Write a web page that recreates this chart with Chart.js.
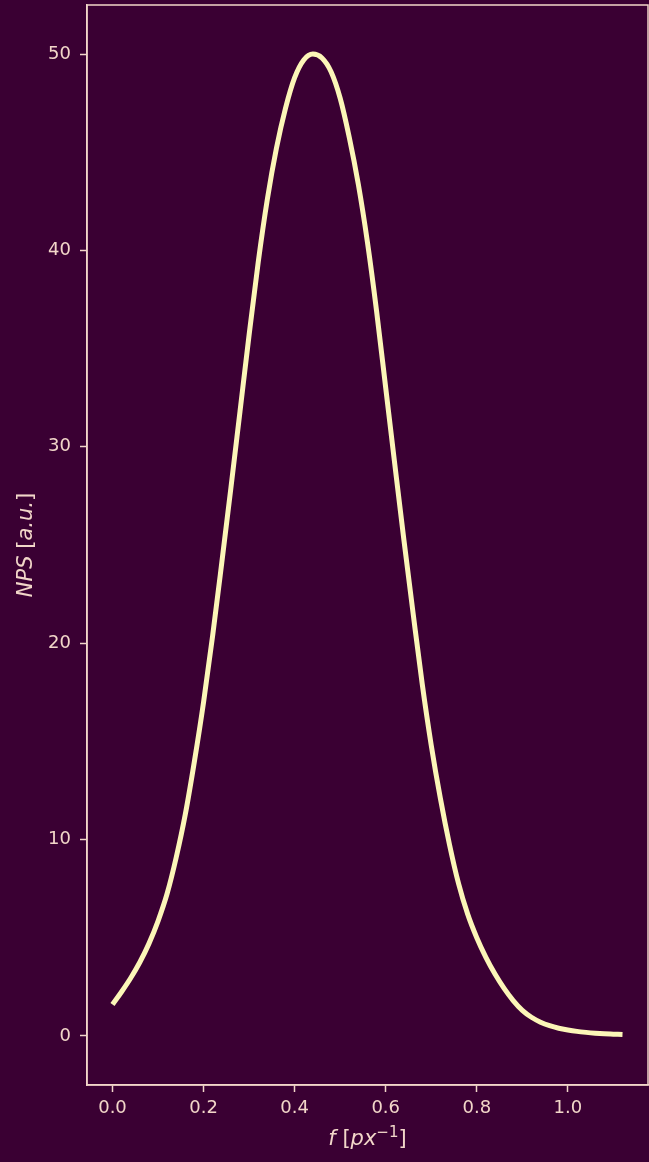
<!DOCTYPE html>
<html>
<head>
<meta charset="utf-8">
<script src="https://cdn.jsdelivr.net/npm/chart.js@4"></script>
<style>
  html, body { margin: 0; padding: 0; background: #3a0033; }
  canvas { display: block; }
</style>
</head>
<body>
<canvas id="nps" width="649" height="1162"></canvas>
<script>
// Spatial frequency samples [px^-1]
const freq = [
  0.00, 0.02, 0.04, 0.06, 0.08, 0.10, 0.12, 0.14, 0.16, 0.18,
  0.20, 0.22, 0.24, 0.26, 0.28, 0.30, 0.32, 0.34, 0.36, 0.38,
  0.40, 0.42, 0.44, 0.46, 0.48, 0.50, 0.52, 0.54, 0.56, 0.58,
  0.60, 0.62, 0.64, 0.66, 0.68, 0.70, 0.72, 0.74, 0.76, 0.78,
  0.80, 0.82, 0.84, 0.86, 0.88, 0.90, 0.92, 0.94, 0.96, 0.98,
  1.00, 1.02, 1.04, 1.06, 1.08, 1.10, 1.12
];

// Noise power spectrum [a.u.]
const nps = [
  1.6, 2.25, 2.95, 3.75, 4.7, 5.85, 7.25, 9.1, 11.3, 14.0,
  17.0, 20.4, 24.1, 27.9, 31.8, 35.7, 39.4, 42.6, 45.2, 47.25,
  48.8, 49.7, 50.0, 49.8, 49.1, 47.75, 45.75, 43.35, 40.4, 36.9,
  33.0, 29.1, 25.25, 21.55, 17.95, 14.8, 12.1, 9.75, 7.75, 6.2,
  5.0, 4.0, 3.15, 2.42, 1.8, 1.3, 0.95, 0.7, 0.52, 0.39,
  0.3, 0.23, 0.18, 0.14, 0.11, 0.09, 0.07
];

// Axis tick positions
const xTicks = [0.0, 0.2, 0.4, 0.6, 0.8, 1.0];
const yTicks = [0, 10, 20, 30, 40, 50];

const BG = '#3a0033';
const FG = '#f2d6c9';
const LINE = '#fcf6b8';
const FONT = '"DejaVu Sans", sans-serif';
const FS = 18;   // tick labels
const TS = 21;   // axis titles

const frame = {
  id: 'frame',
  beforeDraw(chart) {
    const c = chart.ctx;
    c.save();
    c.fillStyle = BG;
    c.fillRect(0, 0, chart.width, chart.height);
    c.restore();
  },
  afterDraw(chart) {
    const c = chart.ctx;
    const a = chart.chartArea;
    c.save();
    c.strokeStyle = FG;
    c.lineWidth = 1.5;
    c.strokeRect(a.left, a.top, a.right - a.left, a.bottom - a.top);

    // x title: f [px^-1]
    c.fillStyle = FG;
    c.textBaseline = 'alphabetic';
    const parts = [
      { t: 'f', f: `italic ${TS}px ${FONT}`, dy: 0 },
      { t: ' [', f: `${TS}px ${FONT}`, dy: 0 },
      { t: 'px', f: `italic ${TS}px ${FONT}`, dy: 0 },
      { t: '\u22121', f: `${Math.round(TS * 0.7)}px ${FONT}`, dy: -8 },
      { t: ']', f: `${TS}px ${FONT}`, dy: 0 }
    ];
    let w = 0;
    parts.forEach(p => { c.font = p.f; p.w = c.measureText(p.t).width; w += p.w; });
    let x = (a.left + a.right) / 2 - w / 2;
    const by = 1145;
    parts.forEach(p => { c.font = p.f; c.fillText(p.t, x, by + p.dy); x += p.w; });

    // y title: NPS [a.u.]
    const yparts = [
      { t: 'NPS', f: `italic ${TS}px ${FONT}` },
      { t: ' [', f: `${TS}px ${FONT}` },
      { t: 'a.u.', f: `italic ${TS}px ${FONT}` },
      { t: ']', f: `${TS}px ${FONT}` }
    ];
    let yw = 0;
    yparts.forEach(p => { c.font = p.f; p.w = c.measureText(p.t).width; yw += p.w; });
    c.translate(32, (a.top + a.bottom) / 2);
    c.rotate(-Math.PI / 2);
    let yx = -yw / 2;
    yparts.forEach(p => { c.font = p.f; c.fillText(p.t, yx, 0); yx += p.w; });
    c.restore();
  }
};

new Chart(document.getElementById('nps'), {
  type: 'line',
  data: {
    datasets: [{
      data: freq.map((f, i) => ({ x: f, y: nps[i] })),
      borderColor: LINE,
      borderWidth: 5,
      pointRadius: 0,
      fill: false,
      cubicInterpolationMode: 'monotone'
    }]
  },
  options: {
    responsive: false,
    animation: false,
    devicePixelRatio: 1,
    layout: { padding: { top: 5, right: 1, left: 0, bottom: 0 } },
    plugins: { legend: { display: false }, tooltip: { enabled: false } },
    scales: {
      x: {
        type: 'linear',
        min: -0.056,
        max: 1.176,
        afterBuildTicks(axis) { axis.ticks = xTicks.map(v => ({ value: v })); },
        afterFit(axis) {
          axis.height = 77;
          axis.paddingLeft = 0;
          axis.paddingRight = 0;
        },
        grid: { drawOnChartArea: false, drawTicks: true, tickLength: 7, tickColor: FG, tickWidth: 1.5 },
        border: { display: true, color: FG, width: 1.5 },
        ticks: {
          color: FG,
          font: { family: FONT, size: FS },
          padding: 6,
          maxRotation: 0,
          callback: v => v.toFixed(1)
        }
      },
      y: {
        type: 'linear',
        min: -2.5,
        max: 52.5,
        afterBuildTicks(axis) { axis.ticks = yTicks.map(v => ({ value: v })); },
        afterFit(axis) {
          axis.width = 87;
          axis.paddingTop = 0;
          axis.paddingBottom = 0;
        },
        grid: { drawOnChartArea: false, drawTicks: true, tickLength: 7, tickColor: FG, tickWidth: 1.5 },
        border: { display: true, color: FG, width: 1.5 },
        ticks: {
          color: FG,
          font: { family: FONT, size: FS },
          padding: 9,
          callback: v => String(v)
        }
      }
    }
  },
  plugins: [frame]
});
</script>
</body>
</html>
